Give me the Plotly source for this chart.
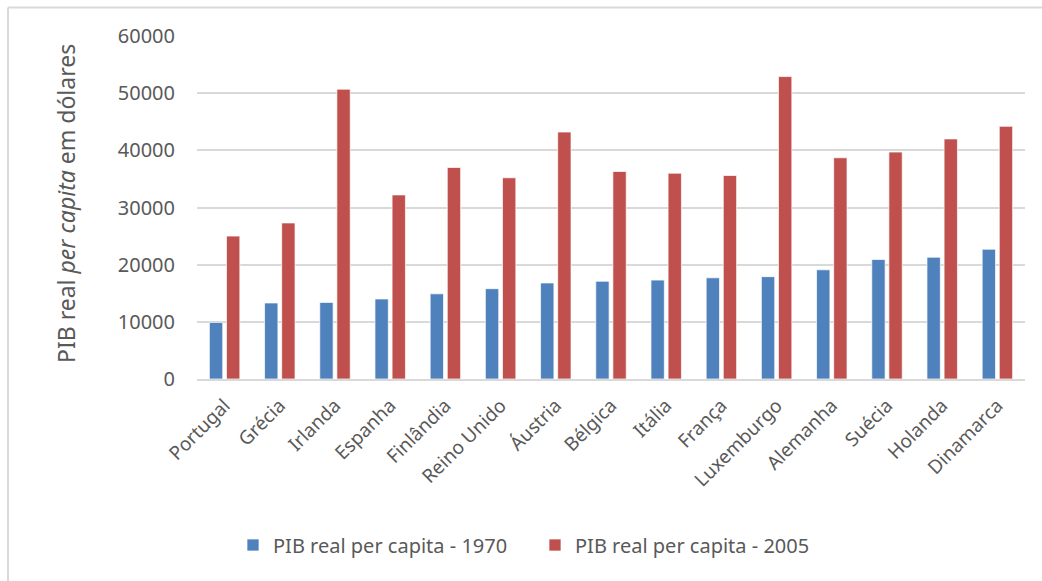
import plotly.graph_objects as go

countries = ["Portugal", "Grécia", "Irlanda", "Espanha", "Finlândia", "Reino Unido",
             "Áustria", "Bélgica", "Itália", "França", "Luxemburgo", "Alemanha",
             "Suécia", "Holanda", "Dinamarca"]
pib_1970 = [9900, 13300, 13400, 14000, 14900, 15800, 16800, 17100, 17300, 17700,
            17900, 19100, 20900, 21300, 22700]
pib_2005 = [25000, 27300, 50700, 32200, 37000, 35200, 43200, 36300, 36000, 35600,
            52900, 38700, 39700, 42000, 44200]
y_ticks = [0, 10000, 20000, 30000, 40000, 50000, 60000]

FONT = "Noto Sans"
TXT = "#595959"
GRID = "#D9D9D9"

fig = go.Figure()
fig.add_trace(go.Bar(x=countries, y=pib_1970, name="PIB real per capita - 1970",
                     marker=dict(color="#4F81BD", line=dict(color="rgba(255,255,255,0.7)", width=1))))
fig.add_trace(go.Bar(x=countries, y=pib_2005, name="PIB real per capita - 2005",
                     marker=dict(color="#C0504D", line=dict(color="rgba(255,255,255,0.7)", width=1))))

L, R, T, B = 197, 17, 36, 202
W, H = 1042, 581
pw, ph = W - L - R, H - T - B

def px_x(p):
    return (p - L) / pw

def px_y(p):
    return (H - B - p) / ph

fig.update_layout(
    width=W, height=H,
    margin=dict(l=L, r=R, t=T, b=B, autoexpand=False),
    paper_bgcolor="white", plot_bgcolor="white",
    barmode="group", bargap=0.38, bargroupgap=0.22,
    font=dict(family=FONT, color=TXT),
    showlegend=True,
    legend=dict(orientation="h", x=px_x(535), xanchor="center", y=px_y(545), yanchor="middle",
                font=dict(family=FONT, size=20, color=TXT), itemwidth=30,
                entrywidth=257, entrywidthmode="pixels",
                traceorder="normal"),
    xaxis=dict(tickangle=-45, tickfont=dict(family=FONT, size=19, color=TXT),
               showline=True, linecolor=GRID, linewidth=2, ticks="", showgrid=False,
               ticklabelstandoff=6),
    yaxis=dict(range=[0, 60000], tickvals=y_ticks, ticktext=[str(v) for v in y_ticks],
               tickfont=dict(family=FONT, size=20, color=TXT), showgrid=True,
               gridcolor=GRID, gridwidth=2, zeroline=False, ticks="", ticklen=0,
               showline=False, ticklabelstandoff=21),
    annotations=[dict(text="PIB real <i>per capita</i> em dólares", textangle=-90,
                      xref="paper", yref="paper", x=px_x(66), y=px_y(204),
                      xanchor="center", yanchor="middle", showarrow=False,
                      font=dict(family=FONT, size=23, color=TXT))],
    shapes=[
        dict(type="line", xref="paper", yref="paper", x0=px_x(8), x1=px_x(1042), y0=px_y(7.5), y1=px_y(7.5),
             line=dict(color=GRID, width=2)),
        dict(type="line", xref="paper", yref="paper", x0=px_x(8), x1=px_x(8), y0=px_y(7.5), y1=px_y(581),
             line=dict(color=GRID, width=2)),
    ],
)

fig.write_html("out.html")
